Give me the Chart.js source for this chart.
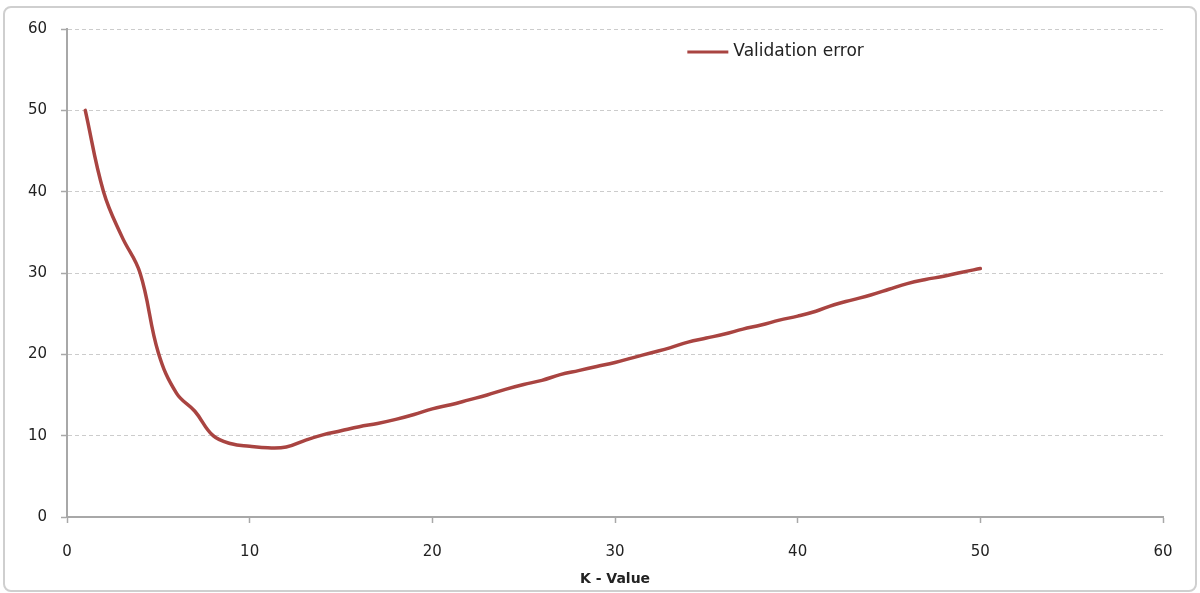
<!DOCTYPE html>
<html>
<head>
<meta charset="utf-8">
<script src="https://cdn.jsdelivr.net/npm/chart.js@4/dist/chart.umd.min.js"></script>
<style>
  html, body { margin: 0; padding: 0; background: #fff; }
  #wrap { position: relative; width: 1200px; height: 593px; }
  #frame {
    position: absolute; left: 3px; top: 6px; width: 1190px; height: 582px;
    border: 2px solid #cfcfcf; border-radius: 8px;
  }
  #errorChart { position: absolute; left: 0; top: 0; }
</style>
</head>
<body>
<div id="wrap">
  <div id="frame"></div>
  <canvas id="errorChart" width="1200" height="593"></canvas>
</div>
<script>
// K values and validation error
const kValues = [1, 2, 3, 4, 5, 6, 7, 8, 9, 10,
                 11, 12, 13, 14, 15, 16, 17, 18, 19, 20,
                 21, 22, 23, 24, 25, 26, 27, 28, 29, 30,
                 31, 32, 33, 34, 35, 36, 37, 38, 39, 40,
                 41, 42, 43, 44, 45, 46, 47, 48, 49, 50];
const errorValues = [50, 40, 34.5, 30, 20.2, 15.2, 13, 10, 9, 8.7,
                     8.5, 8.6, 9.4, 10.1, 10.6, 11.1, 11.5, 12.0, 12.6, 13.3,
                     13.8, 14.4, 15.0, 15.7, 16.3, 16.8, 17.5, 18.0, 18.5, 19.0,
                     19.6, 20.2, 20.8, 21.5, 22.0, 22.5, 23.1, 23.6, 24.2, 24.7,
                     25.3, 26.1, 26.7, 27.3, 28.0, 28.7, 29.2, 29.6, 30.1, 30.55];
const seriesLabel = 'Validation error';
const axisTitle = 'K - Value';
const axisMin = 0;
const axisMax = 60;
const axisStep = 10;

const lineColor = '#a94441';
const tickFont = { family: 'DejaVu Sans', size: 15 };

// legend drawn inside the plot, right of centre like the original
const innerLegend = {
    id: 'innerLegend',
    afterDraw(chart) {
        const area = chart.chartArea;
        const ctx = chart.ctx;
        const x = area.left + area.width * 0.566;
        const y = area.top + 23;
        ctx.save();
        ctx.strokeStyle = lineColor;
        ctx.lineWidth = 3;
        ctx.beginPath();
        ctx.moveTo(x, y);
        ctx.lineTo(x + 41, y);
        ctx.stroke();
        ctx.fillStyle = '#222';
        ctx.font = '17px "DejaVu Sans"';
        ctx.textBaseline = 'middle';
        ctx.fillText(chart.data.datasets[0].label, x + 46, y);
        ctx.restore();
    }
};

const ctx = document.getElementById('errorChart').getContext('2d');
new Chart(ctx, {
    type: 'line',
    data: {
        datasets: [{
            label: seriesLabel,
            data: kValues.map((k, i) => ({ x: k, y: errorValues[i] })),
            borderColor: lineColor,
            borderWidth: 3.5,
            borderCapStyle: 'round',
            pointRadius: 0,
            tension: 0.4,
            fill: false
        }]
    },
    options: {
        responsive: false,
        animation: false,
        layout: { padding: { left: 0, top: 29, right: 37, bottom: 0 } },
        plugins: {
            legend: { display: false },
            tooltip: { enabled: false }
        },
        scales: {
            x: {
                type: 'linear',
                min: axisMin,
                max: axisMax,
                afterFit: (scale) => { scale.height = 76; },
                ticks: { stepSize: axisStep, color: '#222', font: tickFont, padding: 20, maxRotation: 0 },
                grid: { drawOnChartArea: false, tickLength: 6, tickColor: '#a8a8a8', tickWidth: 1.5 },
                border: { color: '#a8a8a8', width: 2 },
                title: {
                    display: true,
                    text: axisTitle,
                    color: '#222',
                    font: { family: 'DejaVu Sans', size: 14, weight: 'bold' },
                    padding: { top: 2, bottom: 5 }
                }
            },
            y: {
                min: axisMin,
                max: axisMax,
                afterFit: (scale) => { scale.width = 67; },
                ticks: { stepSize: axisStep, color: '#222', font: tickFont, padding: 14 },
                grid: {
                    color: '#cccccc',
                    lineWidth: 1,
                    tickLength: 6,
                    tickColor: '#a8a8a8',
                    tickWidth: 1.5,
                    tickBorderDash: []
                },
                // in Chart.js v4 the grid line dash comes from border.dash
                border: { color: '#a8a8a8', width: 2, dash: [4, 3] }
            }
        }
    },
    plugins: [innerLegend]
});
</script>
</body>
</html>
